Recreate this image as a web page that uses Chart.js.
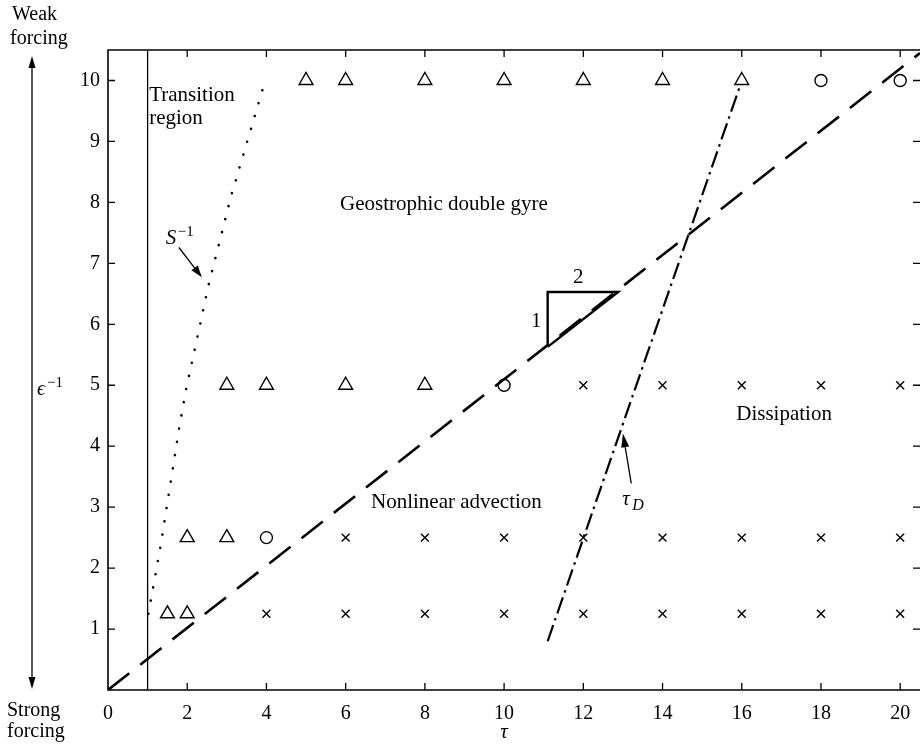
<!DOCTYPE html>
<html>
<head>
<meta charset="utf-8">
<script src="https://cdn.jsdelivr.net/npm/chart.js@4.4.1/dist/chart.umd.min.js"></script>
<style>html,body{margin:0;background:#fff}</style>
</head>
<body>
<canvas id="c" width="920" height="747"></canvas>
<script>
// Regime diagram: forcing strength vs tau, with the boundaries between regimes.
const trianglePts = [[5, 10], [6, 10], [8, 10], [10, 10], [12, 10], [14, 10], [16, 10],
  [3, 5], [4, 5], [6, 5], [8, 5], [2, 2.5], [3, 2.5], [1.5, 1.25], [2, 1.25]];
const circlePts = [[18, 10], [20, 10], [10, 5], [4, 2.5]];
const crossPts = [[12, 5], [14, 5], [16, 5], [18, 5], [20, 5],
  [6, 2.5], [8, 2.5], [10, 2.5], [12, 2.5], [14, 2.5], [16, 2.5], [18, 2.5], [20, 2.5],
  [4, 1.25], [6, 1.25], [8, 1.25], [10, 1.25], [12, 1.25], [14, 1.25], [16, 1.25], [18, 1.25], [20, 1.25]];
const transitionLine = [[1, 0], [1, 10.5]];
const advectionLine = [[0, 0], [20.5, 10.45]];
const sInverseLine = [[1.02, 1.25], [1.34, 2.41], [1.79, 4.27], [1.97, 4.93], [2.32, 5.98],
  [2.53, 6.62], [3.11, 8.11], [3.97, 10]];
const tauDLine = [[11.1, 0.8], [15.95, 9.9]];
const slopeTriangle = [[11.1, 5.63], [11.1, 6.53], [12.88, 6.53], [11.1, 5.63]];

const pts = (arr) => arr.map(([x, y]) => ({ x, y }));
const SERIF = "'Liberation Serif', 'DejaVu Serif', serif";

function arrow(ctx, x1, y1, x2, y2, len, half) {
  const ang = Math.atan2(y2 - y1, x2 - x1);
  const bx = x2 - Math.cos(ang) * len, by = y2 - Math.sin(ang) * len;
  ctx.beginPath();
  ctx.moveTo(x1, y1);
  ctx.lineTo(bx, by);
  ctx.stroke();
  ctx.beginPath();
  ctx.moveTo(x2, y2);
  ctx.lineTo(bx + Math.sin(ang) * half, by - Math.cos(ang) * half);
  ctx.lineTo(bx - Math.sin(ang) * half, by + Math.cos(ang) * half);
  ctx.closePath();
  ctx.fill();
}

const frame = {
  id: 'frame',
  afterDatasetsDraw(chart) {
    const { ctx, chartArea: a, scales: { x, y } } = chart;
    const X = (v) => x.getPixelForValue(v), Y = (v) => y.getPixelForValue(v);
    ctx.save();
    ctx.strokeStyle = '#000';
    ctx.fillStyle = '#000';
    ctx.lineWidth = 1.6;
    ctx.beginPath();
    ctx.moveTo(a.right, a.top);
    ctx.lineTo(a.left, a.top);
    ctx.lineTo(a.left, a.bottom);
    ctx.lineTo(a.right, a.bottom);
    ctx.stroke();

    // ticks point inwards on all four sides
    ctx.lineWidth = 1.3;
    ctx.beginPath();
    x.ticks.forEach((t) => {
      if (t.value === 0) return;
      const px = X(t.value);
      ctx.moveTo(px, a.bottom); ctx.lineTo(px, a.bottom - 7);
      ctx.moveTo(px, a.top); ctx.lineTo(px, a.top + 7);
    });
    y.ticks.forEach((t) => {
      if (t.value === 0) return;
      const py = Y(t.value);
      ctx.moveTo(a.left, py); ctx.lineTo(a.left + 7, py);
      ctx.moveTo(a.right, py); ctx.lineTo(a.right - 7, py);
    });
    ctx.stroke();

    ctx.textBaseline = 'alphabetic';
    ctx.font = '21px ' + SERIF;
    ctx.textAlign = 'left';
    ctx.fillText('Transition', X(1.04), Y(9.67));
    ctx.fillText('region', X(1.04), Y(9.28));
    ctx.fillText('Geostrophic double gyre', X(5.86), Y(7.87));
    ctx.fillText('Nonlinear advection', X(6.64), Y(2.98));
    ctx.fillText('Dissipation', X(15.86), Y(4.43));
    ctx.textAlign = 'center';
    ctx.fillText('2', X(11.87), Y(6.67));
    ctx.fillText('1', X(10.81), Y(5.95));

    // S^-1 label and arrow
    ctx.textAlign = 'left';
    ctx.font = 'italic 21px ' + SERIF;
    ctx.fillText('S', X(1.46), Y(7.31));
    ctx.font = '15px ' + SERIF;
    ctx.fillText('\u22121', X(1.46) + 12, Y(7.31) - 8);
    ctx.lineWidth = 1.3;
    arrow(ctx, X(1.79), Y(7.26), X(2.37), Y(6.77), 12, 4);

    // tau_D label and arrow
    ctx.font = 'italic 21px ' + SERIF;
    ctx.fillText('\u03c4', X(12.98), Y(3.03));
    ctx.font = 'italic 16px ' + SERIF;
    ctx.fillText('D', X(12.98) + 10, Y(3.03) + 5);
    arrow(ctx, X(13.21), Y(3.39), X(13.0), Y(4.21), 14, 4);

    // forcing arrow outside the axes
    ctx.font = '20px ' + SERIF;
    ctx.fillText('Weak', 12, 20);
    ctx.fillText('forcing', 10, 44);
    ctx.fillText('Strong', 7, 716);
    ctx.fillText('forcing', 7, 737);
    ctx.lineWidth = 1.3;
    arrow(ctx, 32, 372, 32, 56, 12, 3.5);
    arrow(ctx, 32, 372, 32, 689, 12, 3.5);
    ctx.font = 'italic 20px ' + SERIF;
    ctx.fillText('\u03f5', 37, 395);
    ctx.font = '15px ' + SERIF;
    ctx.fillText('\u22121', 47, 387);

    ctx.font = 'italic 21px ' + SERIF;
    ctx.textAlign = 'center';
    ctx.fillText('\u03c4', 504, 738);
    ctx.restore();
  }
};

const lineDs = (data, extra) => Object.assign({
  type: 'line', data: pts(data), borderColor: '#000', pointRadius: 0,
  fill: false, tension: 0, showLine: true
}, extra);

const markerDs = (data, style, r) => ({
  type: 'scatter', data: pts(data), pointStyle: style, pointRadius: r,
  borderColor: '#000', backgroundColor: 'rgba(0,0,0,0)', pointBorderWidth: 1.4
});

new Chart(document.getElementById('c'), {
  type: 'scatter',
  data: {
    datasets: [
      lineDs(transitionLine, { borderWidth: 1.3 }),
      lineDs(advectionLine, { borderWidth: 2.6, borderDash: [27, 14] }),
      lineDs(sInverseLine, { borderWidth: 2.6, borderDash: [0.01, 13.4], borderCapStyle: 'round' }),
      lineDs(tauDLine, { borderWidth: 2.2, borderDash: [17, 5, 2.5, 5] }),
      lineDs(slopeTriangle, { borderWidth: 2.4 }),
      markerDs(trianglePts, 'triangle', 8),
      markerDs(circlePts, 'circle', 6),
      markerDs(crossPts, 'crossRot', 5.6)
    ]
  },
  options: {
    responsive: false,
    animation: false,
    devicePixelRatio: 1,
    layout: { autoPadding: false, padding: { top: 50, left: 0, right: 0, bottom: 0 } },
    plugins: { legend: { display: false }, tooltip: { enabled: false } },
    scales: {
      x: {
        type: 'linear', min: 0, max: 20.5,
        grid: { display: false, drawTicks: false },
        border: { display: false },
        ticks: { stepSize: 2, includeBounds: false, padding: 12, color: '#000', font: { family: SERIF, size: 20 }, maxRotation: 0 },
        afterFit: (s) => { s.height = 57; s.paddingLeft = 0; s.paddingRight = 0; }
      },
      y: {
        type: 'linear', min: 0, max: 10.5,
        grid: { display: false, drawTicks: false },
        border: { display: false },
        ticks: { stepSize: 1, includeBounds: false, padding: 8, color: '#000', font: { family: SERIF, size: 20 },
          callback: (v) => (v === 0 ? '' : v) },
        afterFit: (s) => { s.width = 108; s.paddingTop = 0; s.paddingBottom = 0; }
      }
    }
  },
  plugins: [frame]
});
</script>
</body>
</html>
